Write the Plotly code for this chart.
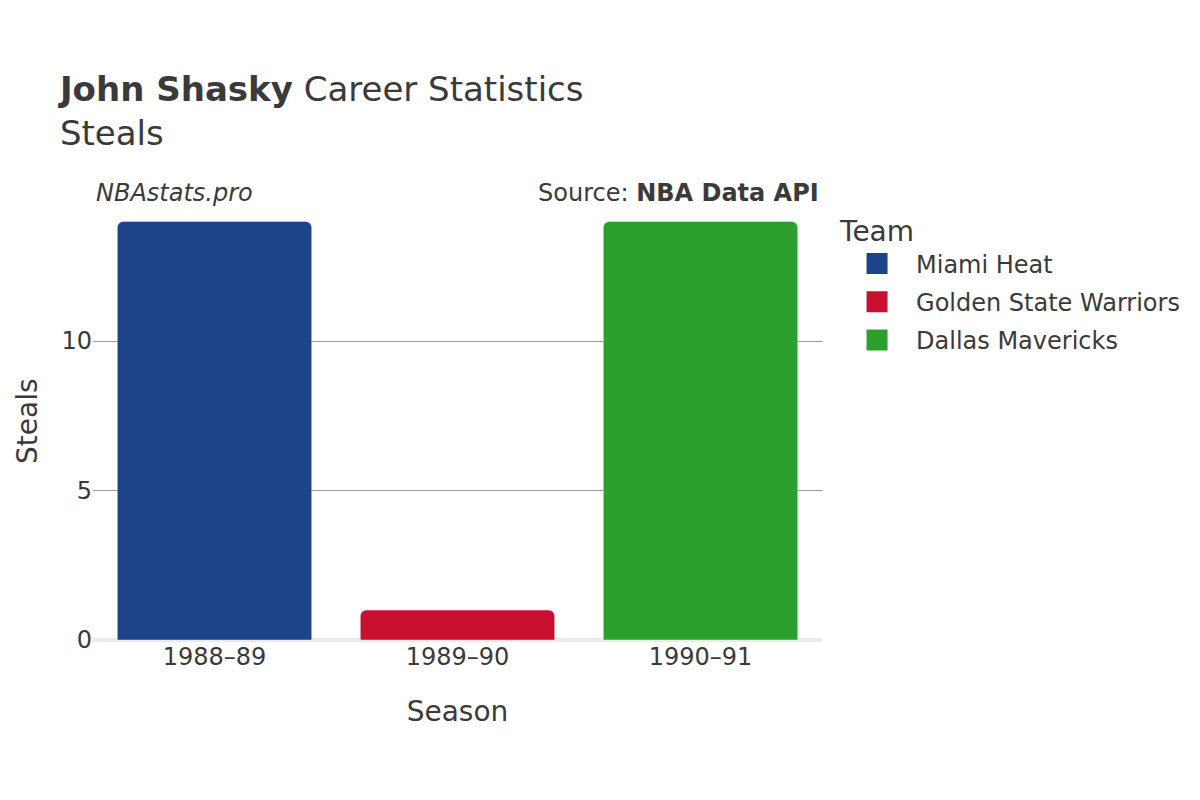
import plotly.graph_objects as go

seasons = ["1988–89", "1989–90", "1990–91"]
teams = ["Miami Heat", "Golden State Warriors", "Dallas Mavericks"]
steals = [14, 1, 14]
colors = ["#1d4488", "#c8102e", "#2ca02c"]

fig = go.Figure()
for s, t, v, c in zip(seasons, teams, steals, colors):
    fig.add_trace(go.Bar(x=[s], y=[v], name=t, marker=dict(color=c, cornerradius=6),
                         showlegend=False, legendgroup=t,
                         hovertemplate="%{y}<extra>" + t + "</extra>"))
for t, c in zip(teams, colors):
    fig.add_trace(go.Scatter(x=[None], y=[None], mode="markers", name=t, legendgroup=t,
                             marker=dict(symbol="square", size=16, color=c,
                                         line=dict(color=c, width=5)),
                             hoverinfo="skip"))

font = "DejaVu Sans"
fig.update_layout(
    width=1200, height=800,
    font=dict(family=font, color="#3a3a3a", size=24),
    paper_bgcolor="white", plot_bgcolor="white",
    barmode="relative", bargap=0.2,
    margin=dict(l=85, r=386, t=194, b=168, autoexpand=False),
    title=dict(text="<b>John Shasky</b> Career Statistics<br>Steals",
               x=0.0433, xanchor="left", y=0.884, yanchor="top",
               font=dict(size=34, family=font, color="#3a3a3a")),
    xaxis=dict(title=dict(text="Season", font=dict(size=28), standoff=31),
               showgrid=False, ticks="", tickfont=dict(size=24), automargin=False,
               showline=False),
    yaxis=dict(range=[0, 14.65], tickvals=[0, 5, 10], showgrid=True, automargin=False,
               gridcolor="#999999", gridwidth=1,
               zeroline=True, zerolinecolor="#ebebeb", zerolinewidth=4,
               ticks="", tickfont=dict(size=24)),
    legend=dict(title=dict(text="Team", font=dict(size=28)), x=1.022, xanchor="left",
                y=0.993, yanchor="top", font=dict(size=24), itemwidth=68,
                tracegroupgap=4),
    annotations=[
        dict(text="<i>NBAstats.pro</i>", xref="paper", yref="paper", x=0.002, y=0.9836,
             xanchor="left", yanchor="bottom", showarrow=False, font=dict(size=24)),
        dict(text="Source: <b>NBA Data API</b>", xref="paper", yref="paper", x=0.999, y=0.9836,
             xanchor="right", yanchor="bottom", showarrow=False, font=dict(size=24)),
        dict(text="Steals", xref="paper", yref="paper", x=0, y=0.5, xanchor="center",
             yanchor="middle", xshift=-66, textangle=-90, showarrow=False,
             font=dict(size=28)),
    ],
)
fig.write_html("out.html")
